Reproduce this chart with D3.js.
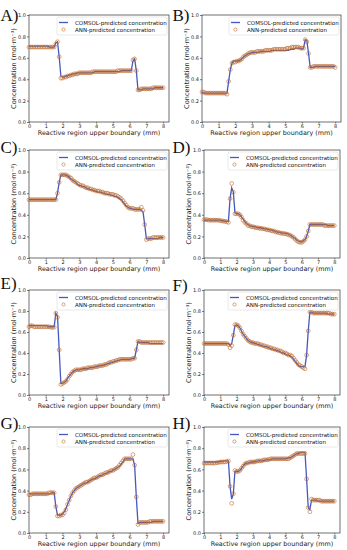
<!DOCTYPE html>
<html>
<head>
<meta charset="utf-8">
<script src="https://cdn.jsdelivr.net/npm/d3@7"></script>
<style>
  body { margin: 0; background: #fff; }
  svg { display: block; }
  .tick text { font-family: "DejaVu Sans", sans-serif; font-size: 5px; fill: #222; }
  .tick line { stroke: #222; stroke-width: 0.6; }
  .domain { stroke: none; }
</style>
</head>
<body>
<div id="chart"></div>
<script>
var width = 347,
    height = 550;

// x positions (mm) of the sampled points
var xs = [0.0,0.1,0.2,0.3,0.4,0.5,0.6,0.7,0.8,0.9,
          1.0,1.1,1.2,1.3,1.4,1.5,1.6,1.7,1.8,1.9,
          2.0,2.1,2.2,2.3,2.4,2.5,2.6,2.7,2.8,2.9,
          3.0,3.1,3.2,3.3,3.4,3.5,3.6,3.7,3.8,3.9,
          4.0,4.1,4.2,4.3,4.4,4.5,4.6,4.7,4.8,4.9,
          5.0,5.1,5.2,5.3,5.4,5.5,5.6,5.7,5.8,5.9,
          6.0,6.1,6.2,6.3,6.4,6.5,6.6,6.7,6.8,6.9,
          7.0,7.1,7.2,7.3,7.4,7.5,7.6,7.7,7.8,7.9,
          8.0];

var panelLabels = ['A)', 'B)', 'C)', 'D)', 'E)', 'F)', 'G)', 'H)'];
var xTicks = [0, 1, 2, 3, 4, 5, 6, 7, 8];
var yTicks = [0.0, 0.2, 0.4, 0.6, 0.8, 1.0];
var seriesNames = ['COMSOL-predicted concentration', 'ANN-predicted concentration'];

var comsolA = [0.71,0.71,0.71,0.71,0.71,0.71,0.71,0.71,0.71,0.71,
               0.71,0.71,0.70,0.70,0.70,0.70,0.74,0.75,0.61,0.43,
               0.42,0.42,0.43,0.43,0.44,0.44,0.45,0.45,0.45,0.46,
               0.46,0.46,0.46,0.46,0.46,0.46,0.46,0.46,0.46,0.47,
               0.47,0.47,0.47,0.47,0.47,0.47,0.47,0.47,0.47,0.47,
               0.47,0.47,0.47,0.47,0.47,0.48,0.48,0.48,0.48,0.48,
               0.48,0.48,0.57,0.59,0.48,0.30,0.30,0.30,0.31,0.31,
               0.31,0.31,0.31,0.31,0.31,0.32,0.32,0.32,0.32,0.32,
               0.32];
var annA =    [0.70,0.70,0.70,0.70,0.70,0.70,0.70,0.70,0.70,0.70,
               0.70,0.70,0.70,0.70,0.70,0.70,0.73,0.75,0.61,0.41,
               0.41,0.42,0.42,0.43,0.43,0.44,0.44,0.45,0.45,0.45,
               0.46,0.46,0.46,0.46,0.46,0.46,0.46,0.46,0.47,0.47,
               0.47,0.47,0.47,0.47,0.47,0.47,0.47,0.47,0.47,0.47,
               0.47,0.47,0.47,0.48,0.48,0.48,0.48,0.48,0.48,0.48,
               0.48,0.48,0.58,0.59,0.48,0.30,0.30,0.31,0.31,0.31,
               0.31,0.31,0.31,0.31,0.32,0.32,0.32,0.32,0.32,0.32,
               0.32];

var comsolB = [0.28,0.27,0.27,0.27,0.27,0.27,0.27,0.27,0.27,0.27,
               0.27,0.27,0.27,0.27,0.27,0.27,0.38,0.49,0.55,0.57,
               0.57,0.57,0.57,0.58,0.59,0.61,0.62,0.63,0.64,0.64,
               0.65,0.65,0.65,0.65,0.65,0.66,0.66,0.66,0.66,0.66,
               0.66,0.66,0.67,0.67,0.67,0.67,0.67,0.67,0.67,0.67,
               0.67,0.67,0.67,0.68,0.68,0.68,0.69,0.69,0.69,0.69,
               0.68,0.69,0.77,0.76,0.64,0.51,0.51,0.51,0.52,0.52,
               0.52,0.52,0.52,0.52,0.52,0.52,0.52,0.52,0.52,0.52,
               0.52];
var annB =    [0.28,0.28,0.27,0.27,0.27,0.27,0.27,0.27,0.27,0.27,
               0.27,0.27,0.27,0.27,0.27,0.26,0.38,0.49,0.55,0.56,
               0.56,0.57,0.57,0.58,0.59,0.61,0.62,0.63,0.64,0.65,
               0.65,0.65,0.65,0.66,0.66,0.66,0.66,0.66,0.67,0.67,
               0.67,0.67,0.67,0.68,0.68,0.68,0.68,0.68,0.68,0.68,
               0.68,0.69,0.69,0.69,0.70,0.70,0.70,0.70,0.70,0.69,
               0.69,0.69,0.77,0.75,0.64,0.51,0.51,0.52,0.52,0.52,
               0.52,0.52,0.52,0.52,0.52,0.52,0.52,0.52,0.52,0.52,
               0.51];

var comsolC = [0.54,0.54,0.54,0.54,0.54,0.54,0.54,0.54,0.54,0.54,
               0.54,0.54,0.54,0.54,0.54,0.54,0.54,0.60,0.70,0.77,
               0.77,0.77,0.77,0.76,0.75,0.73,0.72,0.71,0.70,0.68,
               0.67,0.67,0.66,0.66,0.65,0.64,0.64,0.63,0.63,0.62,
               0.62,0.61,0.61,0.61,0.60,0.60,0.59,0.59,0.59,0.58,
               0.58,0.57,0.57,0.56,0.55,0.54,0.52,0.50,0.48,0.47,
               0.46,0.46,0.45,0.45,0.45,0.45,0.45,0.44,0.43,0.31,
               0.18,0.18,0.18,0.18,0.18,0.18,0.18,0.18,0.19,0.19,
               0.19];
var annC =    [0.54,0.54,0.54,0.54,0.54,0.54,0.54,0.54,0.54,0.54,
               0.54,0.54,0.54,0.54,0.54,0.54,0.54,0.60,0.70,0.77,
               0.77,0.77,0.77,0.76,0.75,0.74,0.72,0.71,0.70,0.69,
               0.68,0.67,0.67,0.66,0.65,0.65,0.64,0.64,0.63,0.63,
               0.62,0.62,0.62,0.61,0.61,0.60,0.60,0.60,0.59,0.59,
               0.59,0.58,0.58,0.57,0.56,0.55,0.53,0.51,0.49,0.47,
               0.46,0.46,0.46,0.45,0.45,0.45,0.45,0.47,0.44,0.31,
               0.17,0.18,0.18,0.18,0.19,0.19,0.19,0.19,0.19,0.19,
               0.19];

var comsolD = [0.35,0.35,0.35,0.35,0.35,0.35,0.35,0.35,0.35,0.35,
               0.35,0.345,0.345,0.34,0.34,0.34,0.55,0.65,0.61,0.42,
               0.41,0.41,0.40,0.38,0.36,0.34,0.32,0.31,0.30,0.295,
               0.29,0.29,0.285,0.28,0.28,0.28,0.275,0.27,0.27,0.265,
               0.26,0.26,0.255,0.25,0.245,0.24,0.24,0.235,0.23,0.23,
               0.23,0.225,0.22,0.21,0.20,0.19,0.18,0.165,0.155,0.15,
               0.15,0.16,0.17,0.20,0.25,0.31,0.31,0.31,0.31,0.31,
               0.31,0.31,0.31,0.31,0.31,0.31,0.30,0.30,0.30,0.30,
               0.30];
var annD =    [0.355,0.355,0.355,0.35,0.35,0.35,0.35,0.35,0.35,0.35,
               0.345,0.345,0.34,0.34,0.335,0.33,0.55,0.69,0.61,0.41,
               0.41,0.41,0.40,0.38,0.35,0.33,0.32,0.30,0.30,0.29,
               0.29,0.285,0.28,0.28,0.275,0.275,0.27,0.27,0.265,0.26,
               0.26,0.255,0.25,0.25,0.24,0.24,0.235,0.23,0.23,0.225,
               0.225,0.22,0.215,0.21,0.20,0.19,0.175,0.16,0.15,0.145,
               0.145,0.155,0.17,0.20,0.25,0.31,0.31,0.31,0.31,0.31,
               0.31,0.31,0.31,0.31,0.30,0.30,0.30,0.30,0.30,0.30,
               0.30];

var comsolE = [0.66,0.66,0.66,0.66,0.66,0.66,0.66,0.66,0.66,0.66,
               0.66,0.655,0.65,0.65,0.65,0.65,0.78,0.75,0.43,0.11,
               0.11,0.12,0.13,0.16,0.18,0.20,0.22,0.23,0.24,0.24,
               0.24,0.245,0.25,0.25,0.25,0.25,0.26,0.26,0.26,0.265,
               0.27,0.27,0.28,0.28,0.28,0.29,0.29,0.30,0.30,0.31,
               0.31,0.32,0.32,0.33,0.33,0.34,0.34,0.34,0.34,0.34,
               0.34,0.345,0.35,0.35,0.43,0.51,0.50,0.50,0.50,0.50,
               0.50,0.50,0.49,0.49,0.49,0.49,0.49,0.49,0.49,0.49,
               0.49];
var annE =    [0.65,0.66,0.66,0.65,0.65,0.65,0.65,0.65,0.65,0.65,
               0.65,0.65,0.65,0.645,0.645,0.645,0.78,0.74,0.43,0.10,
               0.11,0.12,0.13,0.15,0.18,0.20,0.22,0.23,0.24,0.24,
               0.24,0.24,0.25,0.25,0.25,0.26,0.26,0.26,0.26,0.27,
               0.27,0.27,0.28,0.28,0.28,0.29,0.29,0.30,0.31,0.31,
               0.32,0.32,0.33,0.33,0.34,0.34,0.34,0.34,0.34,0.34,
               0.34,0.34,0.35,0.35,0.43,0.51,0.51,0.50,0.50,0.50,
               0.50,0.50,0.50,0.50,0.50,0.50,0.50,0.50,0.50,0.50,
               0.50];

var comsolF = [0.49,0.49,0.49,0.49,0.49,0.49,0.49,0.49,0.49,0.49,
               0.49,0.49,0.49,0.49,0.49,0.49,0.47,0.49,0.57,0.66,
               0.67,0.66,0.64,0.61,0.58,0.56,0.54,0.52,0.51,0.50,
               0.50,0.49,0.49,0.48,0.48,0.47,0.47,0.46,0.46,0.455,
               0.45,0.44,0.44,0.43,0.43,0.42,0.42,0.41,0.40,0.40,
               0.39,0.38,0.38,0.37,0.36,0.34,0.32,0.30,0.28,0.27,
               0.27,0.27,0.27,0.38,0.61,0.79,0.79,0.78,0.78,0.78,
               0.78,0.78,0.78,0.78,0.78,0.78,0.77,0.77,0.77,0.77,
               0.77];
var annF =    [0.49,0.49,0.49,0.49,0.49,0.49,0.49,0.49,0.49,0.49,
               0.49,0.49,0.49,0.49,0.49,0.48,0.45,0.47,0.57,0.67,
               0.67,0.66,0.64,0.61,0.58,0.56,0.54,0.52,0.51,0.50,
               0.50,0.49,0.49,0.49,0.48,0.48,0.47,0.47,0.46,0.46,
               0.45,0.45,0.44,0.44,0.43,0.43,0.42,0.42,0.41,0.40,
               0.40,0.39,0.38,0.38,0.37,0.35,0.33,0.31,0.29,0.28,
               0.27,0.26,0.25,0.38,0.61,0.79,0.79,0.78,0.78,0.78,
               0.78,0.78,0.78,0.78,0.78,0.78,0.78,0.78,0.77,0.77,
               0.77];

var comsolG = [0.37,0.37,0.37,0.37,0.37,0.37,0.37,0.37,0.37,0.37,
               0.37,0.37,0.37,0.375,0.38,0.38,0.25,0.17,0.17,0.17,
               0.18,0.20,0.23,0.27,0.31,0.35,0.38,0.40,0.42,0.43,
               0.44,0.45,0.46,0.47,0.47,0.48,0.49,0.50,0.51,0.51,
               0.52,0.53,0.54,0.54,0.55,0.56,0.56,0.57,0.58,0.58,
               0.59,0.60,0.61,0.62,0.63,0.65,0.67,0.70,0.70,0.70,
               0.70,0.70,0.70,0.64,0.34,0.09,0.10,0.10,0.10,0.10,
               0.10,0.10,0.10,0.10,0.11,0.11,0.11,0.11,0.11,0.11,
               0.11];
var annG =    [0.36,0.36,0.37,0.37,0.37,0.37,0.37,0.37,0.37,0.37,
               0.37,0.37,0.38,0.38,0.38,0.38,0.25,0.16,0.16,0.17,
               0.17,0.19,0.22,0.27,0.31,0.35,0.38,0.40,0.42,0.43,
               0.44,0.45,0.46,0.47,0.48,0.48,0.49,0.50,0.51,0.52,
               0.52,0.53,0.54,0.55,0.55,0.56,0.57,0.57,0.58,0.59,
               0.59,0.60,0.61,0.62,0.64,0.66,0.68,0.70,0.70,0.70,
               0.70,0.70,0.74,0.64,0.34,0.08,0.10,0.10,0.10,0.10,
               0.10,0.10,0.11,0.11,0.11,0.11,0.11,0.11,0.11,0.11,
               0.11];

var comsolH = [0.67,0.67,0.67,0.67,0.67,0.67,0.67,0.67,0.67,0.67,
               0.675,0.675,0.68,0.68,0.68,0.68,0.44,0.32,0.37,0.58,
               0.58,0.58,0.59,0.61,0.63,0.65,0.66,0.66,0.665,0.67,
               0.67,0.67,0.675,0.68,0.68,0.68,0.68,0.685,0.69,0.69,
               0.69,0.695,0.70,0.70,0.70,0.70,0.70,0.70,0.70,0.70,
               0.70,0.705,0.71,0.71,0.72,0.73,0.74,0.75,0.75,0.76,
               0.76,0.76,0.76,0.51,0.24,0.22,0.31,0.31,0.31,0.31,
               0.30,0.30,0.30,0.30,0.30,0.30,0.30,0.30,0.30,0.30,
               0.30];
var annH =    [0.66,0.66,0.66,0.66,0.66,0.66,0.66,0.66,0.665,0.665,
               0.67,0.67,0.67,0.67,0.675,0.68,0.44,0.28,0.37,0.59,
               0.58,0.58,0.59,0.61,0.63,0.65,0.66,0.66,0.67,0.67,
               0.67,0.67,0.675,0.68,0.68,0.68,0.685,0.69,0.69,0.69,
               0.695,0.70,0.70,0.70,0.70,0.70,0.70,0.70,0.70,0.70,
               0.70,0.70,0.70,0.71,0.72,0.73,0.74,0.75,0.75,0.75,
               0.75,0.75,0.75,0.51,0.24,0.20,0.32,0.31,0.31,0.31,
               0.31,0.31,0.30,0.30,0.30,0.30,0.30,0.30,0.30,0.30,
               0.30];

var comsolAll = [comsolA, comsolB, comsolC, comsolD, comsolE, comsolF, comsolG, comsolH];
var annAll = [annA, annB, annC, annD, annE, annF, annG, annH];

// plot boxes: left, top, right, bottom (px)
var boxes = [
  [29, 15, 169, 122], [202, 15, 341, 122],
  [29, 150, 169, 258], [204, 150, 340, 258],
  [29, 290, 169, 395], [204, 290, 340, 395],
  [29, 427, 169, 533], [204, 427, 340, 533]
];
var labelPos = [[0.5, 21], [172.5, 21], [0.5, 153], [172.5, 153], [0.5, 289], [172.5, 291], [0.5, 429], [172.5, 429]];

var lineColor = '#4459c0',
    annColor = '#c06a2c';

var svg = d3.select('#chart').append('svg')
    .attr('width', width)
    .attr('height', height);

boxes.forEach(function (b, p) {
  var x = d3.scaleLinear().domain([0, 8.35]).range([b[0], b[2]]);
  var y = d3.scaleLinear().domain([0, 1]).range([b[3], b[1]]);
  var g = svg.append('g');

  // axes
  g.append('g')
    .attr('transform', 'translate(0,' + b[3] + ')')
    .call(d3.axisBottom(x).tickValues(xTicks).tickFormat(d3.format('d')).tickSize(1.5).tickPadding(0.5));
  g.append('g')
    .attr('transform', 'translate(' + b[0] + ',0)')
    .call(d3.axisLeft(y).tickValues(yTicks).tickFormat(d3.format('.1f')).tickSize(2).tickPadding(1));

  // frame
  g.append('rect')
    .attr('x', b[0]).attr('y', b[1])
    .attr('width', b[2] - b[0]).attr('height', b[3] - b[1])
    .attr('fill', 'none').attr('stroke', '#333').attr('stroke-width', 0.7);

  var pts = xs.map(function (v, i) { return [v, comsolAll[p][i], annAll[p][i]]; });

  g.append('path')
    .datum(pts)
    .attr('fill', 'none')
    .attr('stroke', lineColor)
    .attr('stroke-width', 1.3)
    .attr('d', d3.line().x(function (d) { return x(d[0]); }).y(function (d) { return y(d[1]); }));

  g.selectAll('circle.ann').data(pts)
    .enter().append('circle')
    .attr('class', 'ann')
    .attr('cx', function (d) { return x(d[0]); })
    .attr('cy', function (d) { return y(d[2]); })
    .attr('r', 1.9)
    .attr('fill', 'none')
    .attr('stroke', annColor)
    .attr('stroke-width', 0.6);

  // legend
  var lx = b[2] - 112, ly = b[1] + 2;
  var lg = g.append('g');
  lg.append('rect')
    .attr('x', lx).attr('y', ly).attr('width', 110).attr('height', 18)
    .attr('rx', 1.5)
    .attr('fill', '#fff').attr('fill-opacity', 0.85)
    .attr('stroke', '#d0d0d0').attr('stroke-width', 0.5);
  lg.append('line')
    .attr('x1', lx + 2).attr('x2', lx + 11)
    .attr('y1', ly + 5.5).attr('y2', ly + 5.5)
    .attr('stroke', lineColor).attr('stroke-width', 1.3);
  lg.append('circle')
    .attr('cx', lx + 6.5).attr('cy', ly + 12.5).attr('r', 1.6)
    .attr('fill', 'none').attr('stroke', annColor).attr('stroke-width', 0.6);
  lg.selectAll('text').data(seriesNames)
    .enter().append('text')
    .attr('x', lx + 18)
    .attr('y', function (d, i) { return ly + 7.5 + i * 7; })
    .style('font-family', 'DejaVu Sans, sans-serif')
    .style('font-size', '5.5px')
    .attr('fill', '#111')
    .text(function (d) { return d; });

  // axis titles
  g.append('text')
    .attr('x', (b[0] + b[2]) / 2)
    .attr('y', b[3] + 12.5)
    .attr('text-anchor', 'middle')
    .style('font-family', 'DejaVu Sans, sans-serif')
    .style('font-size', '6.4px')
    .attr('fill', '#222')
    .text('Reactive region upper boundary (mm)');
  g.append('text')
    .attr('transform', 'translate(' + (b[0] - 13.5) + ',' + ((b[1] + b[3]) / 2) + ') rotate(-90)')
    .attr('text-anchor', 'middle')
    .style('font-family', 'DejaVu Sans, sans-serif')
    .style('font-size', '6.6px')
    .attr('fill', '#222')
    .text('Concentration (mol·m⁻³)');

  // panel label
  svg.append('text')
    .attr('x', labelPos[p][0])
    .attr('y', labelPos[p][1])
    .style('font-family', 'Liberation Serif, serif')
    .style('font-size', '17px')
    .attr('fill', '#111')
    .text(panelLabels[p]);
});
</script>
</body>
</html>
